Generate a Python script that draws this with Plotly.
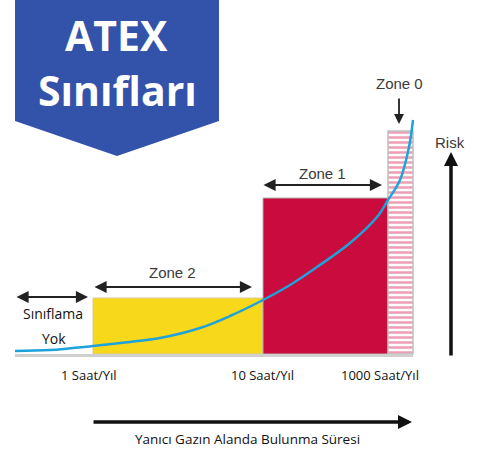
import plotly.graph_objects as go

# diagram coordinates: x left->right, y top->bottom (pixels of the 477x452 canvas)
zone_names = ['Zone 2', 'Zone 1', 'Zone 0']
zone_x0 = [93, 263, 388]
zone_x1 = [263, 388, 413]
zone_top = [298, 198, 131]
zone_base = 354

# risk curve
risk_x = [15, 50, 93, 130, 160, 200, 230, 263, 290, 317, 350, 377, 388, 400, 409, 413]
risk_y = [351, 350, 346, 342, 338, 328, 316, 300, 285, 267, 243, 217, 200, 180, 147, 120]

tick_labels = ['1 Saat/Yıl', '10 Saat/Yıl', '1000 Saat/Yıl']
tick_x = [89, 262, 380]

banner_x = [15, 219, 219, 117, 15, 15]
banner_y = [0, 0, 121, 156, 121, 0]

fig = go.Figure()

# banner
fig.add_trace(go.Scatter(x=banner_x, y=banner_y, fill='toself', mode='lines',
                         fillcolor='#3352A9', line=dict(width=0), hoverinfo='skip'))

# baseline shadow
fig.add_trace(go.Scatter(x=[15, 413], y=[355.5, 355.5], mode='lines',
                         line=dict(color='#d0d0d0', width=3), hoverinfo='skip'))

# zones
centers = [(a + b) / 2 for a, b in zip(zone_x0, zone_x1)]
widths = [b - a for a, b in zip(zone_x0, zone_x1)]
heights = [t - zone_base for t in zone_top]
fig.add_trace(go.Bar(x=centers[:2], y=heights[:2], base=zone_base, width=widths[:2],
                     marker=dict(color=['#F7D81A', '#C90C3D'],
                                 line=dict(color=['#d8c9a0', '#b0b0b0'], width=1)),
                     hoverinfo='skip'))
fig.add_trace(go.Bar(x=centers[2:], y=heights[2:], base=zone_base, width=widths[2:],
                     marker=dict(color='white',
                                 pattern=dict(shape='-', fgcolor='#DE3F6B', bgcolor='white',
                                              size=5, solidity=0.5),
                                 line=dict(color='#c0c0c0', width=1.5)),
                     hoverinfo='skip'))

# curve
fig.add_trace(go.Scatter(x=risk_x, y=risk_y, mode='lines', line=dict(color='#1EA2DC', width=2.5, shape='spline'),
                         hoverinfo='skip'))

ann = []
arrow = dict(showarrow=True, text='', axref='x', ayref='y', xref='x', yref='y',
             arrowcolor='#222', arrowhead=2, arrowsize=1.1, arrowwidth=2.2)
# double arrows
for (xa, xb, yy) in [(15, 88, 297), (93, 252, 287), (262, 382, 185)]:
    ann.append(dict(arrow, x=xb, y=yy, ax=xa, ay=yy, arrowside='end+start'))
# zone 0 down arrow
ann.append(dict(arrow, x=399, y=124, ax=399, ay=97, arrowwidth=1.8))
# risk arrow
ann.append(dict(arrow, x=451, y=152, ax=451, ay=357, arrowwidth=3.5, arrowsize=0.8, arrowcolor='#111'))
# bottom arrow
ann.append(dict(arrow, x=412, y=422, ax=92, ay=422, arrowwidth=3.5, arrowsize=0.8, arrowcolor='#111'))

zone_font = dict(family='Liberation Sans, Arial', size=15, color='#3a3a3a')
ann.append(dict(x=172, y=272, text='Zone 2', showarrow=False, font=zone_font))
ann.append(dict(x=322, y=173, text='Zone 1', showarrow=False, font=zone_font))
ann.append(dict(x=399, y=83, text='Zone 0', showarrow=False, font=zone_font))
ann.append(dict(x=450, y=142, text='Risk', showarrow=False, font=zone_font))

lbl_font = dict(family='Open Sans', size=13, color='#111')
side_font = dict(family='Open Sans', size=14, color='#111')
ann.append(dict(x=53, y=313, text='Sınıflama', showarrow=False, font=side_font))
ann.append(dict(x=54, y=338, text='Yok', showarrow=False, font=side_font))
for tx, tl in zip(tick_x, tick_labels):
    ann.append(dict(x=tx, y=375, text=tl, showarrow=False, font=lbl_font))
ann.append(dict(x=247, y=439, text='Yanıcı Gazın Alanda Bulunma Süresi', showarrow=False,
                font=dict(family='Open Sans', size=13.5, color='#111')))

ban_font = dict(family='Open Sans', size=41, color='white', weight='bold')
ann.append(dict(x=116, y=35, text='ATEX', showarrow=False, font=ban_font))
ann.append(dict(x=117, y=90, text='Sınıfları', showarrow=False, font=ban_font))

fig.update_layout(
    width=477, height=452,
    margin=dict(l=0, r=0, t=0, b=0),
    plot_bgcolor='white', paper_bgcolor='white',
    showlegend=False, barmode='overlay',
    xaxis=dict(range=[0, 477], visible=False, fixedrange=True),
    yaxis=dict(range=[452, 0], visible=False, fixedrange=True),
    annotations=ann,
)

fig.write_html("out.html", config={'displayModeBar': False},
               post_script="document.body.style.margin='0';document.body.style.overflow='hidden';")
